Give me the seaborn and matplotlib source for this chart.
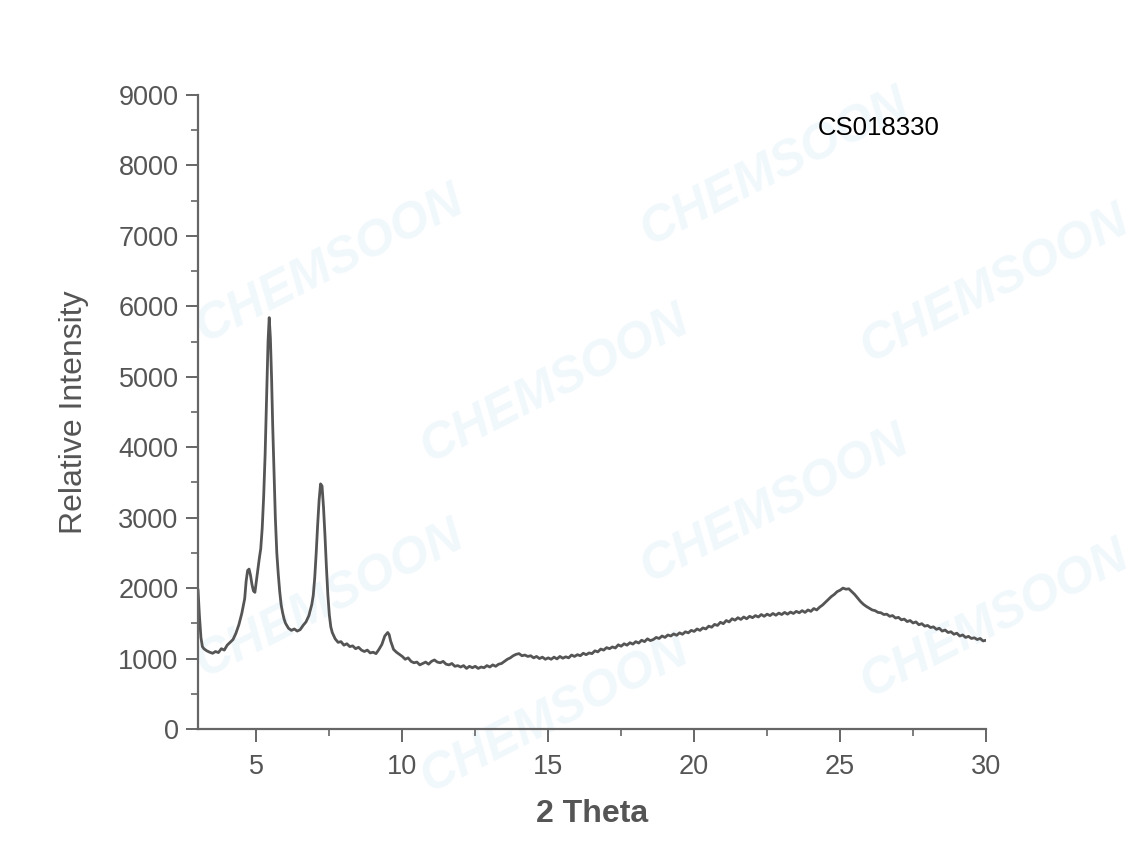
import numpy as np
import pandas as pd
import matplotlib
matplotlib.use("Agg")
import matplotlib.pyplot as plt
from matplotlib.ticker import MultipleLocator
import seaborn as sns

# ── XRD pattern (2θ, counts) ──
two_theta = [
    3.00, 3.05, 3.10, 3.15, 3.20, 3.30, 3.40, 3.50, 3.60, 3.70, 3.80, 3.90,
    4.00, 4.10, 4.20, 4.30, 4.40, 4.50, 4.60, 4.65, 4.70, 4.75, 4.80, 4.85,
    4.90, 4.95, 5.00, 5.05, 5.10, 5.15, 5.20, 5.25, 5.30, 5.35, 5.40, 5.44,
    5.48, 5.52, 5.56, 5.60, 5.65, 5.70, 5.75, 5.80, 5.85, 5.90, 5.95, 6.00,
    6.10, 6.20, 6.30, 6.40, 6.50, 6.60, 6.70, 6.80, 6.90, 6.95, 7.00, 7.05,
    7.10, 7.15, 7.20, 7.25, 7.30, 7.35, 7.40, 7.45, 7.50, 7.55, 7.60, 7.70,
    7.80, 7.90, 8.00, 8.10, 8.20, 8.30, 8.40, 8.50, 8.60, 8.70, 8.80, 8.90,
    9.00, 9.10, 9.20, 9.30, 9.40, 9.50, 9.55, 9.60, 9.70, 9.80, 9.90,
    10.0, 10.1, 10.2, 10.3, 10.4, 10.5, 10.6, 10.7, 10.8, 10.9,
    11.0, 11.1, 11.2, 11.3, 11.4, 11.5, 11.6, 11.7, 11.8, 11.9,
    12.0, 12.1, 12.2, 12.3, 12.4, 12.5, 12.6, 12.7, 12.8, 12.9,
    13.0, 13.1, 13.2, 13.3, 13.4, 13.5, 13.6, 13.7, 13.8, 13.9,
    14.0, 14.1, 14.2, 14.3, 14.4, 14.5, 14.6, 14.7, 14.8, 14.9,
    15.0, 15.1, 15.2, 15.3, 15.4, 15.5, 15.6, 15.7, 15.8, 15.9,
    16.0, 16.1, 16.2, 16.3, 16.4, 16.5, 16.6, 16.7, 16.8, 16.9,
    17.0, 17.1, 17.2, 17.3, 17.4, 17.5, 17.6, 17.7, 17.8, 17.9,
    18.0, 18.1, 18.2, 18.3, 18.4, 18.5, 18.6, 18.7, 18.8, 18.9,
    19.0, 19.1, 19.2, 19.3, 19.4, 19.5, 19.6, 19.7, 19.8, 19.9,
    20.0, 20.1, 20.2, 20.3, 20.4, 20.5, 20.6, 20.7, 20.8, 20.9,
    21.0, 21.1, 21.2, 21.3, 21.4, 21.5, 21.6, 21.7, 21.8, 21.9,
    22.0, 22.1, 22.2, 22.3, 22.4, 22.5, 22.6, 22.7, 22.8, 22.9,
    23.0, 23.1, 23.2, 23.3, 23.4, 23.5, 23.6, 23.7, 23.8, 23.9,
    24.0, 24.1, 24.2, 24.3, 24.4, 24.5, 24.6, 24.7, 24.8, 24.9,
    25.0, 25.1, 25.2, 25.3, 25.4, 25.5, 25.6, 25.7, 25.8, 25.9,
    26.0, 26.1, 26.2, 26.3, 26.4, 26.5, 26.6, 26.7, 26.8, 26.9,
    27.0, 27.1, 27.2, 27.3, 27.4, 27.5, 27.6, 27.7, 27.8, 27.9,
    28.0, 28.1, 28.2, 28.3, 28.4, 28.5, 28.6, 28.7, 28.8, 28.9,
    29.0, 29.1, 29.2, 29.3, 29.4, 29.5, 29.6, 29.7, 29.8, 29.9, 30.0,
]
intensity = [
    1980, 1600, 1300, 1170, 1140, 1110, 1090, 1075, 1100, 1085, 1140, 1120,
    1190, 1230, 1270, 1360, 1480, 1640, 1850, 2100, 2250, 2270, 2180, 2050,
    1960, 1940, 2100, 2250, 2420, 2560, 2850, 3300, 3900, 4700, 5500, 5840,
    5550, 5000, 4300, 3700, 3000, 2500, 2200, 1950, 1760, 1650, 1560, 1500,
    1430, 1400, 1420, 1390, 1410, 1470, 1520, 1610, 1770, 1900, 2150, 2500,
    2900, 3250, 3480, 3450, 3150, 2750, 2300, 1900, 1620, 1450, 1370, 1280,
    1230, 1240, 1190, 1210, 1170, 1180, 1140, 1160, 1120, 1100, 1120, 1080,
    1090, 1070, 1130, 1200, 1320, 1370, 1340, 1250, 1130, 1090, 1060,
    1030, 990, 1010, 960, 940, 950, 910, 930, 950, 920,
    960, 980, 950, 940, 960, 920, 910, 930, 890, 900,
    880, 900, 860, 890, 870, 890, 860, 880, 870, 900,
    880, 910, 890, 920, 930, 960, 990, 1010, 1040, 1060,
    1070, 1040, 1050, 1030, 1040, 1010, 1030, 1000, 1020, 990,
    1010, 990, 1020, 995, 1030, 1005, 1025, 1010, 1050, 1030,
    1055, 1040, 1075, 1055, 1080, 1070, 1110, 1095, 1135, 1120,
    1155, 1140, 1165, 1150, 1195, 1175, 1210, 1190, 1225, 1205,
    1240, 1220, 1260, 1240, 1280, 1255, 1270, 1300, 1285, 1320,
    1300, 1335, 1320, 1350, 1330, 1365, 1345, 1380, 1365, 1400,
    1385, 1420, 1400, 1435, 1420, 1460, 1445, 1485, 1470, 1515,
    1495, 1540, 1520, 1565, 1545, 1580, 1555, 1590, 1565, 1600,
    1580, 1610, 1590, 1625, 1600, 1630, 1610, 1640, 1615, 1645,
    1625, 1655, 1630, 1660, 1640, 1670, 1650, 1680, 1655, 1690,
    1670, 1710, 1690, 1730, 1760, 1800, 1840, 1880, 1910, 1950,
    1970, 2000, 1985, 1990, 1950, 1910, 1860, 1810, 1770, 1740,
    1715, 1690, 1680, 1655, 1650, 1625, 1630, 1600, 1610, 1575,
    1585, 1550, 1560, 1525, 1540, 1505, 1520, 1480, 1495, 1460,
    1470, 1440, 1450, 1415, 1430, 1390, 1405, 1370, 1380, 1345,
    1360, 1320, 1335, 1300, 1315, 1285, 1295, 1270, 1285, 1250, 1260,
]
sample_id = "CS018330"

df = pd.DataFrame({"two_theta": two_theta, "intensity": intensity})

sns.set_style("ticks")
plt.rcParams["font.family"] = ["Liberation Sans", "DejaVu Sans"]

TXT = "#555555"
fig = plt.figure(figsize=(11.36, 8.67), dpi=100)

# very faint "CHEMSOON" watermark, only the copies that fit inside the page
marks = [(330, 265), (330, 600), (555, 385), (555, 715),
         (775, 168), (775, 505), (995, 285), (995, 620)]
for cx, cy in marks:
    fig.text(cx / 1136, 1 - cy / 867, "CHEMSOON", rotation=27,
             fontsize=36, fontweight="bold", fontstyle="italic",
             color="#f1f8fc", ha="center", va="center", zorder=-5)

ax = fig.add_axes([198 / 1136, 1 - 729 / 867, (986 - 198) / 1136, (729 - 95) / 867])
ax.patch.set_alpha(0)
ax.set_zorder(2)

sns.lineplot(data=df, x="two_theta", y="intensity", ax=ax,
             color="#555555", lw=2, estimator=None, sort=False)

ax.set_xlim(3, 30)
ax.set_ylim(0, 9000)
ax.xaxis.set_major_locator(MultipleLocator(5))
ax.xaxis.set_minor_locator(MultipleLocator(2.5))
ax.yaxis.set_major_locator(MultipleLocator(1000))
ax.yaxis.set_minor_locator(MultipleLocator(500))

sns.despine(ax=ax)
for s in ("left", "bottom"):
    ax.spines[s].set_color("#666666")
    ax.spines[s].set_linewidth(1.6)
ax.tick_params(which="major", length=9, width=1.4, color="#666666",
               labelsize=19.5, labelcolor=TXT, pad=5)
ax.tick_params(axis="x", which="major", pad=9)
ax.tick_params(which="minor", length=5, width=1.2, color="#666666")

ax.set_xlabel("2 Theta", fontsize=23, fontweight="bold", color="#555555", labelpad=14)
ax.set_ylabel("Relative Intensity", fontsize=23, color=TXT, labelpad=21)

ax.text(0.787, 0.948, sample_id, transform=ax.transAxes, fontsize=18.5,
        color="black", ha="left", va="center")

fig.savefig("out.png", dpi=100)
